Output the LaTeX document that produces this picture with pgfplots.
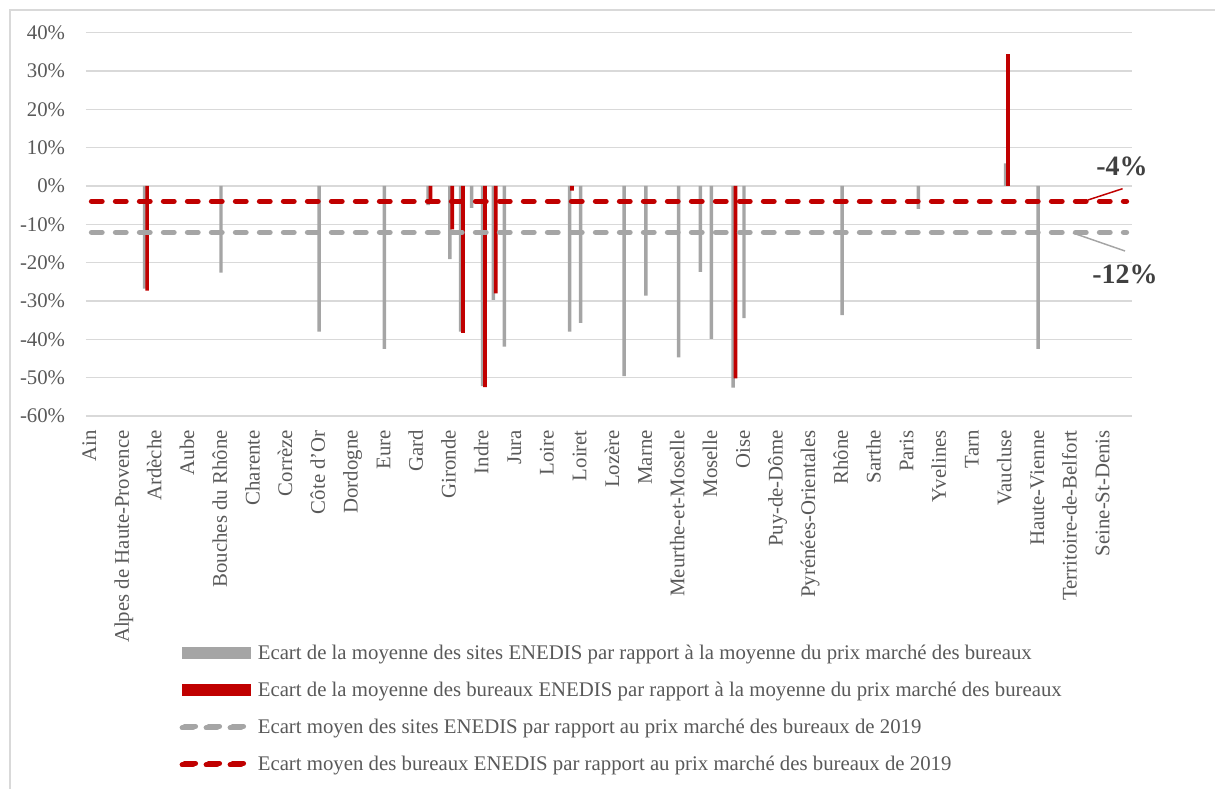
\documentclass[border=0pt]{standalone}
\usepackage{fontspec}
\setmainfont{Liberation Serif}
\usepackage{pgfplots}
\pgfplotsset{compat=1.18}
\definecolor{barGray}{HTML}{A5A5A5}
\definecolor{barRed}{HTML}{C00000}
\definecolor{gridGray}{HTML}{D9D9D9}
\definecolor{textGray}{HTML}{595959}
\definecolor{annGray}{HTML}{404040}
\begin{document}
\begin{tikzpicture}
\useasboundingbox (0pt,0pt) rectangle (911.25pt,591.75pt);
\draw[gridGray, line width=1.2pt] (7.5pt,-30pt) rectangle (960pt,584.25pt);
\begin{axis}[
  at={(64.5pt,279.75pt)}, anchor=south west,
  scale only axis, width=784.5pt, height=287.5pt,
  xmin=-0.5, xmax=95.5, ymin=-0.6, ymax=0.4,
  clip=false,
  axis line style={draw=none},
  major tick style={draw=none}, minor tick style={draw=none},
  ymajorgrids, major grid style={draw=gridGray, line width=1.1pt},
  ytick={-0.6,-0.5,-0.4,-0.3,-0.2,-0.1,0,0.1,0.2,0.3,0.4},
  yticklabels={-60\%,-50\%,-40\%,-30\%,-20\%,-10\%,0\%,10\%,20\%,30\%,40\%},
  yticklabel style={font=\fontsize{15.6}{18}\selectfont, text=textGray, inner sep=0pt, anchor=east},
  yticklabel shift=15.5pt,
  xtick={0,3,...,93},
  xticklabels={Ain,Alpes de Haute-Provence,Ardèche,Aube,Bouches du Rhône,Charente,Corrèze,Côte d'Or,Dordogne,Eure,Gard,Gironde,Indre,Jura,Loire,Loiret,Lozère,Marne,Meurthe-et-Moselle,Moselle,Oise,Puy-de-Dôme,Pyrénées-Orientales,Rhône,Sarthe,Paris,Yvelines,Tarn,Vaucluse,Haute-Vienne,Territoire-de-Belfort,Seine-St-Denis},
  xticklabel style={font=\fontsize{15.6}{18}\selectfont, text=textGray, inner sep=0pt, rotate=90, anchor=east, text height=10.4pt, text depth=3.4pt},
  xticklabel shift=10.5pt,
  legend style={at={(axis description cs:0.0895,-0.5933)}, anchor=north west,
    draw=none, fill=none, inner sep=0pt, outer sep=0pt, row sep=12.15pt,
    font=\fontsize{15.6}{18}\selectfont, text=textGray,
    nodes={inner sep=0pt, text height=11.7pt, text depth=3.9pt},
    /tikz/every odd column/.append style={column sep=3pt}},
  legend cell align=left,
]
\addplot[ybar, bar width=2.6pt, bar shift=-0.9pt, fill=barGray, draw=none,
  legend image code/.code={\fill[barGray] (0pt,-3.9pt) rectangle (51.75pt,5.1pt);}]
  coordinates {
  (5,-0.268) (12,-0.226) (21,-0.380) (27,-0.425) (31,-0.050) (33,-0.191)
  (34,-0.380) (35,-0.057) (36,-0.522) (37,-0.297) (38,-0.419) (44,-0.380)
  (45,-0.357) (49,-0.496) (51,-0.286) (54,-0.447) (56,-0.224) (57,-0.399)
  (59,-0.526) (60,-0.345) (69,-0.337) (76,-0.060) (84,0.059) (87,-0.425)};
\addlegendentry{Ecart de la moyenne des sites ENEDIS par rapport à la moyenne du prix marché des bureaux}
\addplot[ybar, bar width=2.8pt, bar shift=0.9pt, fill=barRed, draw=none,
  legend image code/.code={\fill[barRed] (0pt,-3.9pt) rectangle (51.75pt,5.1pt);}]
  coordinates {
  (5,-0.273) (31,-0.036) (33,-0.113) (34,-0.383) (36,-0.525) (37,-0.280)
  (44,-0.012) (59,-0.502) (84,0.344)};
\addlegendentry{Ecart de la moyenne des bureaux ENEDIS par rapport à la moyenne du prix marché des bureaux}
\addplot[barGray, line width=3.9pt, line cap=round, dash pattern=on 8pt off 10pt,
  legend image code/.code={\path (0pt,0pt) -- (51.75pt,0pt);\draw[barGray, line width=3.9pt, line cap=round, dash pattern=on 8pt off 10pt] (1.95pt,1.1pt) -- (45.95pt,1.1pt);}]
  coordinates {(0,-0.121) (95,-0.121)};
\addlegendentry{Ecart moyen des sites ENEDIS par rapport au prix marché des bureaux de 2019}
\addplot[barRed, line width=3.9pt, line cap=round, dash pattern=on 8pt off 10pt,
  legend image code/.code={\path (0pt,0pt) -- (51.75pt,0pt);\draw[barRed, line width=3.9pt, line cap=round, dash pattern=on 8pt off 10pt] (1.95pt,1.1pt) -- (45.95pt,1.1pt);}]
  coordinates {(0,-0.04) (95,-0.04)};
\addlegendentry{Ecart moyen des bureaux ENEDIS par rapport au prix marché des bureaux de 2019}
\draw[barRed, line width=1.1pt] (axis cs:91.46,-0.0365) -- (axis cs:94.64,-0.007);
\draw[barGray, line width=1.1pt] (axis cs:90.08,-0.1226) -- (axis cs:94.86,-0.1696);
\node[font=\fontsize{21}{24}\selectfont\bfseries, text=annGray] at (axis cs:94.58,0.052) {-4\%};
\node[font=\fontsize{21}{24}\selectfont\bfseries, text=annGray] at (axis cs:94.86,-0.2296) {-12\%};
\end{axis}
\end{tikzpicture}
\end{document}
